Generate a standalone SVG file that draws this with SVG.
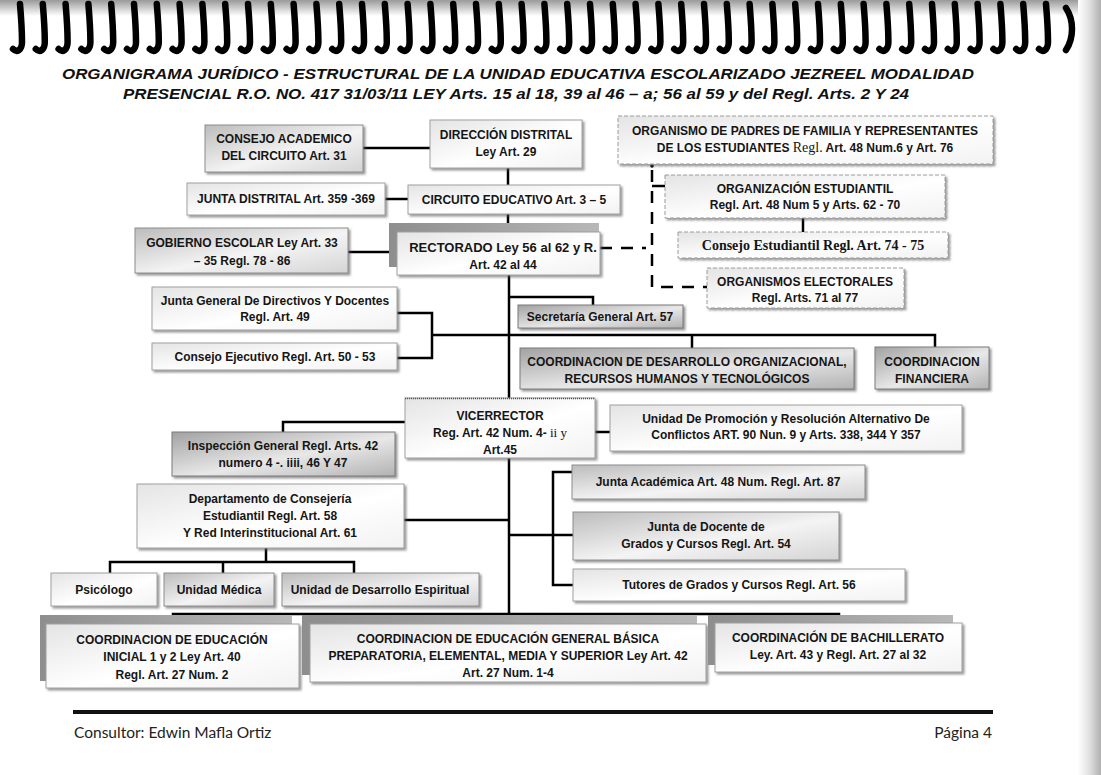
<svg xmlns="http://www.w3.org/2000/svg" width="1101" height="775" viewBox="0 0 1101 775">
<defs>
<style>
.t{font-family:"Liberation Sans",Arial,sans-serif;font-weight:bold;font-size:12px;text-anchor:middle;fill:#151515}
.t13{font-size:13px}
.ser{font-family:"Liberation Serif","Times New Roman",serif;font-weight:normal}
.serb{font-family:"Liberation Serif","Times New Roman",serif;font-weight:bold;font-size:14px}
.ttl{font-family:"Liberation Sans",Arial,sans-serif;font-weight:bold;font-style:italic;font-size:15px;text-anchor:middle;fill:#111}
.ft{font-family:Lato,"Liberation Sans",sans-serif;font-size:15.5px;fill:#222}
.bl{fill:url(#gl);stroke:#a0a0a0;stroke-width:1}
.bm{fill:url(#gm);stroke:#8c8c8c;stroke-width:1}
.bd{fill:url(#gd);stroke:#7a7a7a;stroke-width:1}
.bdash{fill:url(#gl);stroke:#9c9c9c;stroke-width:1;stroke-dasharray:4 2}
.sb{fill:url(#gs);stroke:none}
.c{stroke:#000;stroke-width:2.5;fill:none}
.cd{stroke:#000;stroke-width:2.5;fill:none;stroke-dasharray:12 9}
.loop{fill:none;stroke:#000;stroke-width:6.5;stroke-linecap:round}
</style>
<linearGradient id="gl" x1="0" y1="0" x2="1" y2="1"><stop offset="0" stop-color="#e4e4e4"/><stop offset="0.55" stop-color="#ffffff"/><stop offset="1" stop-color="#f2f2f2"/></linearGradient>
<linearGradient id="gm" x1="0" y1="0" x2="1" y2="1"><stop offset="0" stop-color="#bcbcbc"/><stop offset="0.55" stop-color="#f4f4f4"/><stop offset="1" stop-color="#d4d4d4"/></linearGradient>
<linearGradient id="gd" x1="0" y1="0" x2="1" y2="1"><stop offset="0" stop-color="#a2a2a2"/><stop offset="0.55" stop-color="#e8e8e8"/><stop offset="1" stop-color="#b2b2b2"/></linearGradient>
<linearGradient id="gs" x1="0" y1="0" x2="1" y2="0"><stop offset="0" stop-color="#8e8e8e"/><stop offset="1" stop-color="#b8b8b8"/></linearGradient>
<linearGradient id="gtop" x1="0" y1="0" x2="0" y2="1"><stop offset="0" stop-color="#9a9a9a"/><stop offset="1" stop-color="#ffffff"/></linearGradient>
<linearGradient id="gedge" x1="0" y1="0" x2="1" y2="0"><stop offset="0" stop-color="#ffffff"/><stop offset="0.5" stop-color="#e0e0e0"/><stop offset="1" stop-color="#b0b0b0"/></linearGradient>
<filter id="sh" x="-5%" y="-10%" width="115%" height="130%"><feDropShadow dx="2" dy="2" stdDeviation="0.8" flood-color="#555" flood-opacity="0.6"/></filter>
<path id="lp" class="loop" d="M0,4 C1,16 2,30 2,42 C2,50 -3,53 -7,49"/>
</defs>
<rect x="0" y="0" width="1101" height="775" fill="#fff"/>
<rect x="0" y="0" width="1101" height="16" fill="url(#gtop)"/>
<rect x="1078" y="0" width="23" height="775" fill="url(#gedge)"/>
<g id="spiral">
<use href="#lp" x="20"/><use href="#lp" x="42.8"/><use href="#lp" x="65.6"/><use href="#lp" x="88.4"/><use href="#lp" x="111.2"/><use href="#lp" x="134"/><use href="#lp" x="156.8"/><use href="#lp" x="179.6"/><use href="#lp" x="202.4"/><use href="#lp" x="225.2"/><use href="#lp" x="248"/><use href="#lp" x="270.8"/><use href="#lp" x="293.6"/><use href="#lp" x="316.4"/><use href="#lp" x="339.2"/><use href="#lp" x="362"/><use href="#lp" x="384.8"/><use href="#lp" x="407.6"/><use href="#lp" x="430.4"/><use href="#lp" x="453.2"/><use href="#lp" x="476"/><use href="#lp" x="498.8"/><use href="#lp" x="521.6"/><use href="#lp" x="544.4"/><use href="#lp" x="567.2"/><use href="#lp" x="590"/><use href="#lp" x="612.8"/><use href="#lp" x="635.6"/><use href="#lp" x="658.4"/><use href="#lp" x="681.2"/><use href="#lp" x="704"/><use href="#lp" x="726.8"/><use href="#lp" x="749.6"/><use href="#lp" x="772.4"/><use href="#lp" x="795.2"/><use href="#lp" x="818"/><use href="#lp" x="840.8"/><use href="#lp" x="863.6"/><use href="#lp" x="886.4"/><use href="#lp" x="909.2"/><use href="#lp" x="932"/><use href="#lp" x="954.8"/><use href="#lp" x="977.6"/><use href="#lp" x="1000.4"/><use href="#lp" x="1023.2"/><use href="#lp" x="1046"/>
<path class="loop" d="M1066,8 C1074,20 1074,38 1066,50"/>
</g>
<g id="title">
<text class="ttl" x="518" y="79" textLength="912" lengthAdjust="spacingAndGlyphs">ORGANIGRAMA JURÍDICO - ESTRUCTURAL DE LA UNIDAD EDUCATIVA ESCOLARIZADO JEZREEL MODALIDAD</text>
<text class="ttl" x="516" y="99" textLength="786" lengthAdjust="spacingAndGlyphs">PRESENCIAL R.O. NO. 417 31/03/11 LEY Arts. 15 al 18, 39 al 46 – a; 56 al 59 y del Regl. Arts. 2 Y 24</text>
</g>
<g id="connectors">
<path class="c" d="M363,148 H430"/>
<path class="c" d="M508,168 V185"/>
<path class="c" d="M385,199 H408"/>
<path class="c" d="M508,214 V232"/>
<path class="c" d="M348,252 H397"/>
<path class="cd" d="M600,248 H646"/>
<path class="cd" d="M652,170 V287 H707"/>
<circle cx="652" cy="166" r="1.8" fill="#000"/>
<path class="c" d="M652,186 H665"/>
<path class="c" d="M803,218 V232"/>
<path class="c" d="M509,275 V398"/>
<path class="c" d="M509,297 H593 V305"/>
<path class="c" d="M397,313 H432 V358 H397"/>
<path class="c" d="M432,335 H935 V347"/>
<path class="c" d="M692,335 V348"/>
<path class="c" d="M405,422 H283 V432"/>
<path class="c" d="M595,432 H610"/>
<path class="c" d="M509,458 V624"/>
<path class="c" d="M404,520 H509"/>
<path class="c" d="M509,535 H573"/>
<path class="c" d="M572,472 H553 V585 H573"/>
<path class="c" d="M266,548 V562"/>
<path class="c" d="M110,573 V562 H354 V573"/>
<path class="c" d="M223,562 V573"/>
<path class="c" d="M173,624 V614 H839 V623"/>
</g>
<g id="n-consejo-academico"><rect class="bm" filter="url(#sh)" x="205" y="125" width="158" height="47"/><text class="t" x="284" y="143">CONSEJO ACADEMICO</text><text class="t" x="284" y="160">DEL CIRCUITO Art. 31</text></g>
<g id="n-direccion"><rect class="bl" filter="url(#sh)" x="430" y="120" width="152" height="48"/><text class="t" x="506" y="139">DIRECCIÓN DISTRITAL</text><text class="t" x="506" y="156">Ley Art. 29</text></g>
<g id="n-padres"><rect class="bdash" filter="url(#sh)" x="618" y="116" width="375" height="48"/><text class="t" x="805" y="135">ORGANISMO DE PADRES DE FAMILIA Y REPRESENTANTES</text><text class="t" x="805" y="152">DE LOS ESTUDIANTES <tspan class="ser" font-size="14">Regl.</tspan> Art. 48 Num.6 y Art. 76</text></g>
<g id="n-junta-distrital"><rect class="bl" filter="url(#sh)" x="187" y="183" width="198" height="32"/><text class="t" x="286" y="203">JUNTA DISTRITAL Art. 359 -369</text></g>
<g id="n-circuito"><rect class="bl" filter="url(#sh)" x="408" y="185" width="212" height="29"/><text class="t" x="514" y="204">CIRCUITO EDUCATIVO  Art. 3 – 5</text></g>
<g id="n-org-estudiantil"><rect class="bdash" filter="url(#sh)" x="665" y="175" width="280" height="43"/><text class="t" x="805" y="193">ORGANIZACIÓN ESTUDIANTIL</text><text class="t" x="805" y="209">Regl. Art. 48 Num 5 y  Arts. 62 - 70</text></g>
<g id="n-consejo-estudiantil"><rect class="bdash" filter="url(#sh)" x="678" y="232" width="270" height="26"/><text class="t serb" x="813" y="250">Consejo Estudiantil Regl. Art. 74 - 75</text></g>
<g id="n-gobierno"><rect class="bm" filter="url(#sh)" x="135" y="228" width="213" height="45"/><text class="t" x="242" y="247">GOBIERNO ESCOLAR Ley  Art. 33</text><text class="t" x="242" y="265">– 35  Regl. 78 - 86</text></g>
<g id="n-rectorado"><rect class="sb" x="389" y="223" width="210" height="44"/><rect class="bl" filter="url(#sh)" x="397" y="232" width="203" height="43"/><text class="t t13" x="503" y="252">RECTORADO Ley 56 al 62 y R.</text><text class="t" x="503" y="269">Art. 42 al 44</text></g>
<g id="n-electorales"><rect class="bdash" filter="url(#sh)" x="707" y="268" width="197" height="40"/><text class="t" x="805" y="286">ORGANISMOS ELECTORALES</text><text class="t" x="805" y="302">Regl. Arts. 71 al 77</text></g>
<g id="n-junta-general"><rect class="bl" filter="url(#sh)" x="152" y="287" width="245" height="43"/><text class="t" x="275" y="305">Junta General De Directivos Y Docentes</text><text class="t" x="275" y="321">Regl. Art. 49</text></g>
<g id="n-consejo-ejecutivo"><rect class="bl" filter="url(#sh)" x="152" y="343" width="245" height="27"/><text class="t" x="275" y="361">Consejo Ejecutivo Regl. Art. 50 - 53</text></g>
<g id="n-secretaria"><rect class="bd" filter="url(#sh)" x="518" y="305" width="165" height="23"/><text class="t" x="600" y="321">Secretaría General Art. 57</text></g>
<g id="n-desarrollo"><rect class="bd" filter="url(#sh)" x="520" y="348" width="334" height="41"/><text class="t" x="687" y="366">COORDINACION DE DESARROLLO ORGANIZACIONAL,</text><text class="t" x="687" y="383">RECURSOS HUMANOS Y TECNOLÓGICOS</text></g>
<g id="n-financiera"><rect class="bd" filter="url(#sh)" x="875" y="347" width="114" height="42"/><text class="t" x="932" y="366">COORDINACION</text><text class="t" x="932" y="383">FINANCIERA</text></g>
<g id="n-vicerrector"><rect class="bl" filter="url(#sh)" x="405" y="398" width="190" height="60"/><path d="M405,398.5 H595" stroke="#555" stroke-width="1.5" stroke-dasharray="1 1"/><text class="t" x="500" y="420">VICERRECTOR</text><text class="t" x="500" y="437">Reg. Art. 42 Num. 4- <tspan class="ser" font-size="13">ii y</tspan></text><text class="t" x="500" y="454">Art.45</text></g>
<g id="n-inspeccion"><rect class="bd" filter="url(#sh)" x="172" y="432" width="223" height="44"/><text class="t" x="283" y="450">Inspección General Regl. Arts. 42</text><text class="t" x="283" y="467">numero 4 -. iiii, 46 Y 47</text></g>
<g id="n-promocion"><rect class="bl" filter="url(#sh)" x="610" y="405" width="352" height="46"/><text class="t" x="786" y="423">Unidad De Promoción y Resolución Alternativo De</text><text class="t" x="786" y="439">Conflictos ART. 90 Nun. 9 y Arts. 338, 344 Y 357</text></g>
<g id="n-departamento"><rect class="bl" filter="url(#sh)" x="137" y="484" width="267" height="64"/><text class="t" x="270" y="503">Departamento de Consejería</text><text class="t" x="270" y="520">Estudiantil Regl. Art. 58</text><text class="t" x="270" y="537">Y Red Interinstitucional Art. 61</text></g>
<g id="n-junta-academica"><rect class="bm" filter="url(#sh)" x="572" y="465" width="293" height="34"/><text class="t" x="718" y="486">Junta Académica Art. 48 Num. Regl. Art. 87</text></g>
<g id="n-junta-docente"><rect class="bm" filter="url(#sh)" x="573" y="512" width="266" height="48"/><text class="t" x="706" y="531">Junta de Docente de</text><text class="t" x="706" y="548">Grados y Cursos Regl. Art. 54</text></g>
<g id="n-tutores"><rect class="bl" filter="url(#sh)" x="573" y="569" width="332" height="32"/><text class="t" x="739" y="589">Tutores de Grados y Cursos Regl. Art. 56</text></g>
<g id="n-psicologo"><rect class="bl" filter="url(#sh)" x="51" y="573" width="106" height="33"/><text class="t" x="104" y="594">Psicólogo</text></g>
<g id="n-medica"><rect class="bm" filter="url(#sh)" x="164" y="573" width="110" height="33"/><text class="t" x="219" y="594">Unidad Médica</text></g>
<g id="n-espiritual"><rect class="bm" filter="url(#sh)" x="282" y="573" width="197" height="33"/><text class="t" x="380" y="594">Unidad de Desarrollo Espiritual</text></g>
<g id="n-inicial"><rect class="sb" x="40" y="615" width="252" height="66"/><rect class="bl" filter="url(#sh)" x="46" y="624" width="253" height="64"/><text class="t" x="172" y="644">COORDINACION DE EDUCACIÓN</text><text class="t" x="172" y="661">INICIAL 1 y 2  Ley Art. 40</text><text class="t" x="172" y="679">Regl. Art. 27 Num. 2</text></g>
<g id="n-basica"><rect class="sb" x="302" y="615" width="395" height="60"/><rect class="bl" filter="url(#sh)" x="310" y="624" width="396" height="58"/><text class="t" x="508" y="643">COORDINACION DE EDUCACIÓN GENERAL BÁSICA</text><text class="t" x="508" y="660">PREPARATORIA, ELEMENTAL, MEDIA Y SUPERIOR Ley Art. 42</text><text class="t" x="508" y="677">Art. 27 Num. 1-4</text></g>
<g id="n-bachillerato"><rect class="sb" x="708" y="615" width="245" height="50"/><rect class="bl" filter="url(#sh)" x="715" y="623" width="247" height="49"/><text class="t" x="838" y="642">COORDINACIÓN DE  BACHILLERATO</text><text class="t" x="838" y="659">Ley. Art. 43 y Regl. Art. 27 al  32</text></g>
<g id="footer">
<rect x="73" y="710" width="920" height="4" fill="#111"/>
<text class="ft" x="74" y="738">Consultor: Edwin Mafla Ortiz</text>
<text class="ft" x="992" y="738" text-anchor="end">Página 4</text>
</g>
</svg>
